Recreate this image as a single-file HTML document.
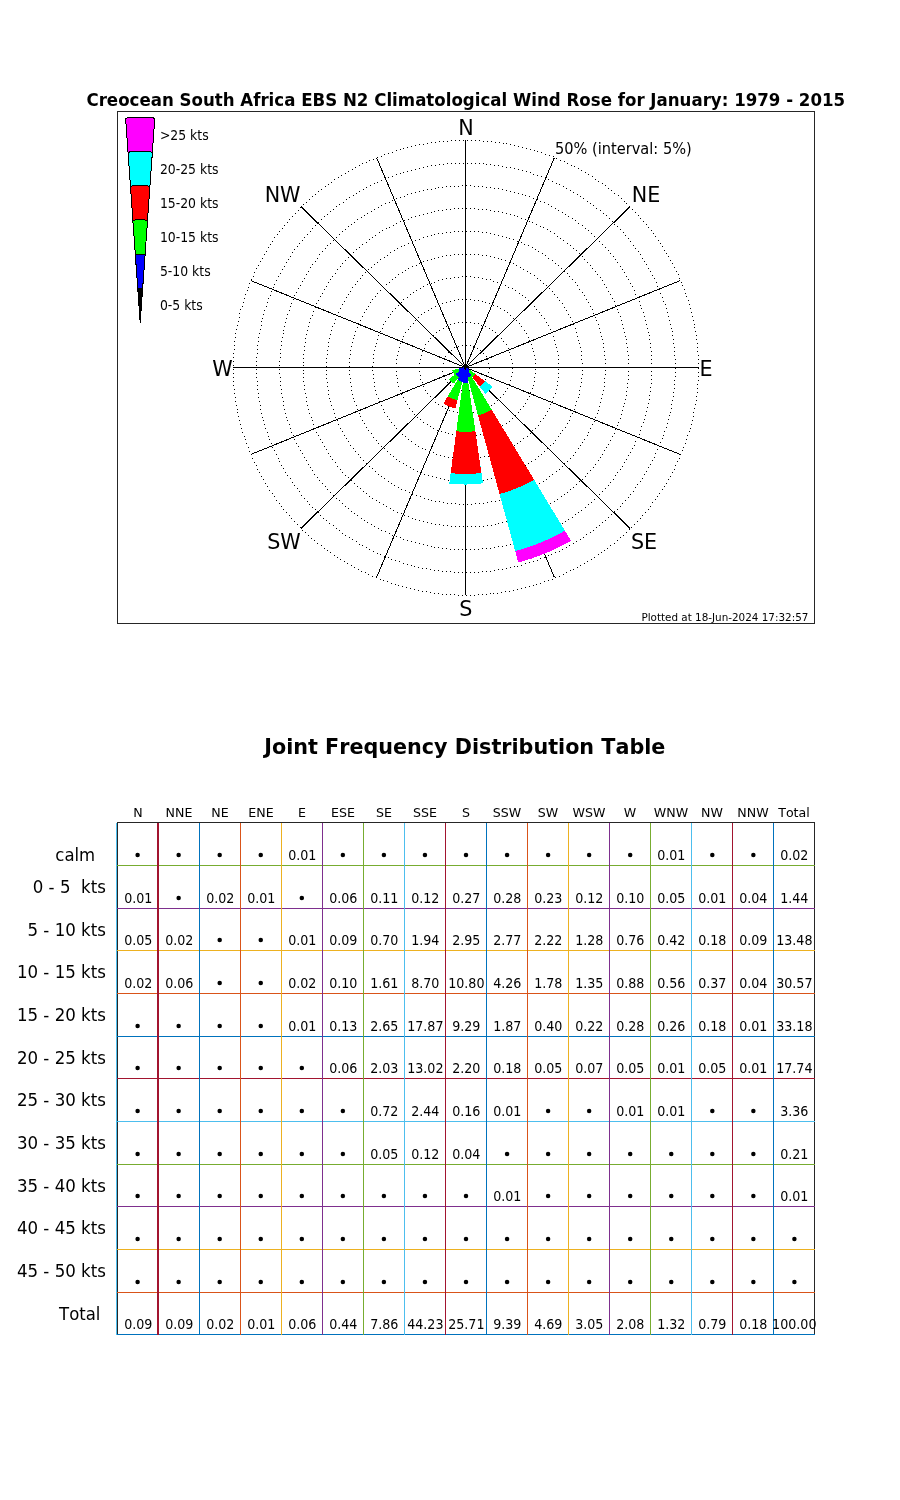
<!DOCTYPE html>
<html><head><meta charset="utf-8"><title>Wind Rose</title>
<style>html,body{margin:0;padding:0;background:#fff}svg{display:block;will-change:transform}text{font-family:"DejaVu Sans","Liberation Sans",sans-serif;fill:#000;font-kerning:none;font-variant-ligatures:none}.b{font-weight:bold}.c{text-anchor:middle}.e{text-anchor:end}</style></head><body>
<svg width="900" height="1500" viewBox="0 0 900 1500">
<rect width="900" height="1500" fill="#fff"/>
<g shape-rendering="crispEdges" fill="none">
<rect x="117.5" y="111.5" width="697" height="512" stroke="#262626" stroke-width="1"/>
<path fill="#000" stroke="none" d="m489 367h1v1h-1zm-1-4h1v1h-1zm-1-4h1v1h-1zm-1-3h1v1h-1zm-3-3h1v1h-1zm-3-3h1v1h-1zm-3-2h1v1h-1zm-4-2h1v1h-1zm-3-1h1v1h-1zm-4 0h1v1h-1zm-4 0h1v1h-1zm-4 1h1v1h-1zm-4 1h1v1h-1zm-3 3h1v1h-1zm-3 2h1v1h-1zm-3 4h1v1h-1zm-1 3h1v1h-1zm-1 4h1v1h-1zm-1 4h1v1h-1zm0 4h1v1h-1zm1 4h1v1h-1zm2 4h1v1h-1zm2 3h1v1h-1zm3 3h1v1h-1zm4 2h1v1h-1zm3 2h1v1h-1zm4 1h1v1h-1zm4 0h1v1h-1zm4 0h1v1h-1zm4-1h1v1h-1zm4-2h1v1h-1zm3-2h1v1h-1zm3-3h1v1h-1zm2-3h1v1h-1zm2-3h1v1h-1zm1-4h1v1h-1zm1-4h1v1h-1z"/>
<path fill="#000" stroke="none" d="m512 367h1v1h-1zm0-4h1v1h-1zm-1-4h1v1h-1zm-1-4h1v1h-1zm-1-3h1v1h-1zm-1-4h1v1h-1zm-2-4h1v1h-1zm-3-3h1v1h-1zm-2-3h1v1h-1zm-3-3h1v1h-1zm-3-3h1v1h-1zm-3-2h1v1h-1zm-3-2h1v1h-1zm-4-2h1v1h-1zm-4-1h1v1h-1zm-3-2h1v1h-1zm-4 0h1v1h-1zm-4-1h1v1h-1zm-4 0h1v1h-1zm-4 0h1v1h-1zm-4 0h1v1h-1zm-4 1h1v1h-1zm-4 1h1v1h-1zm-4 2h1v1h-1zm-3 2h1v1h-1zm-4 2h1v1h-1zm-3 2h1v1h-1zm-3 3h1v1h-1zm-3 3h1v1h-1zm-2 3h1v1h-1zm-3 3h1v1h-1zm-1 4h1v1h-1zm-2 3h1v1h-1zm-1 4h1v1h-1zm-1 4h1v1h-1zm-1 4h1v1h-1zm0 4h1v1h-1zm0 4h1v1h-1zm1 4h1v1h-1zm0 4h1v1h-1zm2 3h1v1h-1zm1 4h1v1h-1zm2 4h1v1h-1zm2 3h1v1h-1zm3 3h1v1h-1zm2 3h1v1h-1zm3 3h1v1h-1zm3 2h1v1h-1zm4 2h1v1h-1zm3 2h1v1h-1zm4 2h1v1h-1zm4 1h1v1h-1zm4 1h1v1h-1zm4 1h1v1h-1zm4 0h1v1h-1zm4 0h1v1h-1zm4-1h1v1h-1zm4-1h1v1h-1zm3-1h1v1h-1zm4-1h1v1h-1zm4-2h1v1h-1zm3-2h1v1h-1zm3-2h1v1h-1zm3-3h1v1h-1zm3-3h1v1h-1zm3-3h1v1h-1zm2-3h1v1h-1zm2-3h1v1h-1zm2-4h1v1h-1zm1-4h1v1h-1zm1-4h1v1h-1zm1-4h1v1h-1zm0-4h1v1h-1z"/>
<path fill="#000" stroke="none" d="m535 367h1v1h-1zm0-4h1v1h-1zm0-4h1v1h-1zm-1-4h1v1h-1zm-1-4h1v1h-1zm-1-3h1v1h-1zm-1-4h1v1h-1zm-2-4h1v1h-1zm-1-3h1v1h-1zm-2-4h1v1h-1zm-2-3h1v1h-1zm-3-4h1v1h-1zm-2-3h1v1h-1zm-3-3h1v1h-1zm-3-2h1v1h-1zm-3-3h1v1h-1zm-3-3h1v1h-1zm-3-2h1v1h-1zm-4-2h1v1h-1zm-3-2h1v1h-1zm-4-1h1v1h-1zm-4-2h1v1h-1zm-4-1h1v1h-1zm-3-1h1v1h-1zm-4-1h1v1h-1zm-4 0h1v1h-1zm-4-1h1v1h-1zm-4 0h1v1h-1zm-4 0h1v1h-1zm-4 0h1v1h-1zm-4 1h1v1h-1zm-4 1h1v1h-1zm-4 1h1v1h-1zm-4 1h1v1h-1zm-4 1h1v1h-1zm-3 2h1v1h-1zm-4 2h1v1h-1zm-3 2h1v1h-1zm-4 2h1v1h-1zm-3 2h1v1h-1zm-3 3h1v1h-1zm-3 3h1v1h-1zm-2 3h1v1h-1zm-3 3h1v1h-1zm-2 3h1v1h-1zm-3 3h1v1h-1zm-2 4h1v1h-1zm-1 3h1v1h-1zm-2 4h1v1h-1zm-1 4h1v1h-1zm-1 4h1v1h-1zm-1 4h1v1h-1zm-1 4h1v1h-1zm0 4h1v1h-1zm0 4h1v1h-1zm0 4h1v1h-1zm0 4h1v1h-1zm1 3h1v1h-1zm0 4h1v1h-1zm1 4h1v1h-1zm2 4h1v1h-1zm1 4h1v1h-1zm2 3h1v1h-1zm2 4h1v1h-1zm2 3h1v1h-1zm2 4h1v1h-1zm3 3h1v1h-1zm2 3h1v1h-1zm3 3h1v1h-1zm3 2h1v1h-1zm3 3h1v1h-1zm4 2h1v1h-1zm3 2h1v1h-1zm3 2h1v1h-1zm4 2h1v1h-1zm4 1h1v1h-1zm4 1h1v1h-1zm3 1h1v1h-1zm4 1h1v1h-1zm4 1h1v1h-1zm4 0h1v1h-1zm4 1h1v1h-1zm4-1h1v1h-1zm4 0h1v1h-1zm4 0h1v1h-1zm4-1h1v1h-1zm4-1h1v1h-1zm4-1h1v1h-1zm4-1h1v1h-1zm3-2h1v1h-1zm4-2h1v1h-1zm3-2h1v1h-1zm4-2h1v1h-1zm3-2h1v1h-1zm3-3h1v1h-1zm3-3h1v1h-1zm3-3h1v1h-1zm2-3h1v1h-1zm3-3h1v1h-1zm2-3h1v1h-1zm2-4h1v1h-1zm2-3h1v1h-1zm1-4h1v1h-1zm2-4h1v1h-1zm1-3h1v1h-1zm1-4h1v1h-1zm0-4h1v1h-1zm1-4h1v1h-1zm0-4h1v1h-1z"/>
<path fill="#000" stroke="none" d="m558 367h1v1h-1zm0-4h1v1h-1zm0-4h1v1h-1zm0-4h1v1h-1zm-1-4h1v1h-1zm-1-4h1v1h-1zm-1-3h1v1h-1zm-1-4h1v1h-1zm-1-4h1v1h-1zm-2-4h1v1h-1zm-1-3h1v1h-1zm-2-4h1v1h-1zm-2-3h1v1h-1zm-2-4h1v1h-1zm-3-3h1v1h-1zm-2-3h1v1h-1zm-3-3h1v1h-1zm-2-3h1v1h-1zm-3-3h1v1h-1zm-3-3h1v1h-1zm-3-3h1v1h-1zm-3-2h1v1h-1zm-3-2h1v1h-1zm-4-3h1v1h-1zm-3-2h1v1h-1zm-4-1h1v1h-1zm-3-2h1v1h-1zm-4-2h1v1h-1zm-4-1h1v1h-1zm-4-1h1v1h-1zm-3-2h1v1h-1zm-4 0h1v1h-1zm-4-1h1v1h-1zm-4-1h1v1h-1zm-4 0h1v1h-1zm-4-1h1v1h-1zm-4 0h1v1h-1zm-4 0h1v1h-1zm-4 1h1v1h-1zm-4 0h1v1h-1zm-4 1h1v1h-1zm-4 0h1v1h-1zm-4 1h1v1h-1zm-4 1h1v1h-1zm-4 2h1v1h-1zm-3 1h1v1h-1zm-4 1h1v1h-1zm-4 2h1v1h-1zm-3 2h1v1h-1zm-4 2h1v1h-1zm-3 2h1v1h-1zm-3 2h1v1h-1zm-3 3h1v1h-1zm-4 2h1v1h-1zm-2 3h1v1h-1zm-3 3h1v1h-1zm-3 3h1v1h-1zm-3 3h1v1h-1zm-2 3h1v1h-1zm-2 3h1v1h-1zm-3 4h1v1h-1zm-2 3h1v1h-1zm-1 4h1v1h-1zm-2 3h1v1h-1zm-2 4h1v1h-1zm-1 4h1v1h-1zm-1 4h1v1h-1zm-1 3h1v1h-1zm-1 4h1v1h-1zm-1 4h1v1h-1zm0 4h1v1h-1zm0 4h1v1h-1zm-1 4h1v1h-1zm0 4h1v1h-1zm1 4h1v1h-1zm0 4h1v1h-1zm1 4h1v1h-1zm0 4h1v1h-1zm1 4h1v1h-1zm1 4h1v1h-1zm2 4h1v1h-1zm1 3h1v1h-1zm2 4h1v1h-1zm2 4h1v1h-1zm1 3h1v1h-1zm3 4h1v1h-1zm2 3h1v1h-1zm2 3h1v1h-1zm3 3h1v1h-1zm2 3h1v1h-1zm3 3h1v1h-1zm3 3h1v1h-1zm3 2h1v1h-1zm3 3h1v1h-1zm3 2h1v1h-1zm4 3h1v1h-1zm3 2h1v1h-1zm4 2h1v1h-1zm3 1h1v1h-1zm4 2h1v1h-1zm4 1h1v1h-1zm3 2h1v1h-1zm4 1h1v1h-1zm4 1h1v1h-1zm4 1h1v1h-1zm4 0h1v1h-1zm4 1h1v1h-1zm4 0h1v1h-1zm4 0h1v1h-1zm4 0h1v1h-1zm4 0h1v1h-1zm4 0h1v1h-1zm4-1h1v1h-1zm4-1h1v1h-1zm4 0h1v1h-1zm4-1h1v1h-1zm3-2h1v1h-1zm4-1h1v1h-1zm4-1h1v1h-1zm3-2h1v1h-1zm4-2h1v1h-1zm4-2h1v1h-1zm3-2h1v1h-1zm3-2h1v1h-1zm3-3h1v1h-1zm4-2h1v1h-1zm3-3h1v1h-1zm2-3h1v1h-1zm3-2h1v1h-1zm3-3h1v1h-1zm2-4h1v1h-1zm3-3h1v1h-1zm2-3h1v1h-1zm2-4h1v1h-1zm2-3h1v1h-1zm1-4h1v1h-1zm2-3h1v1h-1zm1-4h1v1h-1zm2-4h1v1h-1zm1-4h1v1h-1zm1-4h1v1h-1zm0-4h1v1h-1zm1-4h1v1h-1zm0-4h1v1h-1zm0-4h1v1h-1z"/>
<path fill="#000" stroke="none" d="m582 367h1v1h-1zm0-4h1v1h-1zm-1-4h1v1h-1zm0-4h1v1h-1zm0-4h1v1h-1zm-1-4h1v1h-1zm-1-4h1v1h-1zm-1-3h1v1h-1zm-1-4h1v1h-1zm-1-4h1v1h-1zm-1-4h1v1h-1zm-2-4h1v1h-1zm-1-3h1v1h-1zm-2-4h1v1h-1zm-2-3h1v1h-1zm-2-4h1v1h-1zm-2-3h1v1h-1zm-2-4h1v1h-1zm-3-3h1v1h-1zm-2-3h1v1h-1zm-3-3h1v1h-1zm-2-3h1v1h-1zm-3-3h1v1h-1zm-3-3h1v1h-1zm-3-2h1v1h-1zm-3-3h1v1h-1zm-3-2h1v1h-1zm-3-3h1v1h-1zm-4-2h1v1h-1zm-3-2h1v1h-1zm-4-2h1v1h-1zm-3-2h1v1h-1zm-4-2h1v1h-1zm-3-2h1v1h-1zm-4-1h1v1h-1zm-4-2h1v1h-1zm-4-1h1v1h-1zm-3-1h1v1h-1zm-4-1h1v1h-1zm-4-1h1v1h-1zm-4-1h1v1h-1zm-4 0h1v1h-1zm-4-1h1v1h-1zm-4 0h1v1h-1zm-4 0h1v1h-1zm-4 0h1v1h-1zm-4 0h1v1h-1zm-4 0h1v1h-1zm-4 0h1v1h-1zm-4 1h1v1h-1zm-4 0h1v1h-1zm-4 1h1v1h-1zm-4 1h1v1h-1zm-4 1h1v1h-1zm-3 1h1v1h-1zm-4 1h1v1h-1zm-4 1h1v1h-1zm-4 2h1v1h-1zm-3 2h1v1h-1zm-4 1h1v1h-1zm-4 2h1v1h-1zm-3 2h1v1h-1zm-3 2h1v1h-1zm-4 2h1v1h-1zm-3 3h1v1h-1zm-3 2h1v1h-1zm-3 3h1v1h-1zm-3 2h1v1h-1zm-3 3h1v1h-1zm-3 3h1v1h-1zm-3 3h1v1h-1zm-2 3h1v1h-1zm-3 3h1v1h-1zm-2 3h1v1h-1zm-2 4h1v1h-1zm-2 3h1v1h-1zm-2 3h1v1h-1zm-2 4h1v1h-1zm-2 4h1v1h-1zm-2 3h1v1h-1zm-1 4h1v1h-1zm-2 4h1v1h-1zm-1 4h1v1h-1zm-1 3h1v1h-1zm-1 4h1v1h-1zm-1 4h1v1h-1zm-1 4h1v1h-1zm0 4h1v1h-1zm-1 4h1v1h-1zm0 4h1v1h-1zm0 4h1v1h-1zm0 4h1v1h-1zm0 4h1v1h-1zm1 4h1v1h-1zm0 4h1v1h-1zm1 4h1v1h-1zm0 4h1v1h-1zm1 4h1v1h-1zm1 4h1v1h-1zm1 3h1v1h-1zm2 4h1v1h-1zm1 4h1v1h-1zm2 4h1v1h-1zm1 3h1v1h-1zm2 4h1v1h-1zm2 3h1v1h-1zm2 4h1v1h-1zm2 3h1v1h-1zm3 3h1v1h-1zm2 4h1v1h-1zm3 3h1v1h-1zm2 3h1v1h-1zm3 3h1v1h-1zm3 2h1v1h-1zm3 3h1v1h-1zm3 3h1v1h-1zm3 2h1v1h-1zm3 3h1v1h-1zm3 2h1v1h-1zm4 2h1v1h-1zm3 2h1v1h-1zm4 2h1v1h-1zm3 2h1v1h-1zm4 2h1v1h-1zm4 1h1v1h-1zm3 2h1v1h-1zm4 1h1v1h-1zm4 1h1v1h-1zm4 1h1v1h-1zm4 1h1v1h-1zm4 1h1v1h-1zm4 1h1v1h-1zm4 0h1v1h-1zm3 1h1v1h-1zm4 0h1v1h-1zm4 0h1v1h-1zm4 0h1v1h-1zm4 0h1v1h-1zm4 0h1v1h-1zm4-1h1v1h-1zm4 0h1v1h-1zm4-1h1v1h-1zm4-1h1v1h-1zm4-1h1v1h-1zm4-1h1v1h-1zm4-1h1v1h-1zm4-1h1v1h-1zm3-2h1v1h-1zm4-1h1v1h-1zm4-2h1v1h-1zm3-2h1v1h-1zm4-2h1v1h-1zm3-2h1v1h-1zm3-2h1v1h-1zm4-2h1v1h-1zm3-3h1v1h-1zm3-2h1v1h-1zm3-3h1v1h-1zm3-3h1v1h-1zm3-3h1v1h-1zm3-2h1v1h-1zm2-3h1v1h-1zm3-4h1v1h-1zm2-3h1v1h-1zm2-3h1v1h-1zm3-3h1v1h-1zm2-4h1v1h-1zm2-3h1v1h-1zm1-4h1v1h-1zm2-3h1v1h-1zm2-4h1v1h-1zm1-4h1v1h-1zm1-4h1v1h-1zm2-4h1v1h-1zm1-3h1v1h-1zm0-4h1v1h-1zm1-4h1v1h-1zm1-4h1v1h-1zm0-4h1v1h-1zm1-4h1v1h-1zm0-4h1v1h-1z"/>
<path fill="#000" stroke="none" d="m605 367h1v1h-1zm0-4h1v1h-1zm0-4h1v1h-1zm-1-4h1v1h-1zm0-4h1v1h-1zm-1-4h1v1h-1zm0-4h1v1h-1zm-1-4h1v1h-1zm-1-3h1v1h-1zm-1-4h1v1h-1zm-1-4h1v1h-1zm-1-4h1v1h-1zm-2-4h1v1h-1zm-1-3h1v1h-1zm-2-4h1v1h-1zm-1-4h1v1h-1zm-2-3h1v1h-1zm-2-4h1v1h-1zm-2-3h1v1h-1zm-2-4h1v1h-1zm-2-3h1v1h-1zm-3-3h1v1h-1zm-2-4h1v1h-1zm-2-3h1v1h-1zm-3-3h1v1h-1zm-3-3h1v1h-1zm-2-3h1v1h-1zm-3-2h1v1h-1zm-3-3h1v1h-1zm-3-3h1v1h-1zm-3-2h1v1h-1zm-3-3h1v1h-1zm-4-2h1v1h-1zm-3-3h1v1h-1zm-3-2h1v1h-1zm-4-2h1v1h-1zm-3-2h1v1h-1zm-3-2h1v1h-1zm-4-2h1v1h-1zm-4-1h1v1h-1zm-3-2h1v1h-1zm-4-1h1v1h-1zm-4-2h1v1h-1zm-4-1h1v1h-1zm-3-1h1v1h-1zm-4-1h1v1h-1zm-4-1h1v1h-1zm-4-1h1v1h-1zm-4-1h1v1h-1zm-4-1h1v1h-1zm-4 0h1v1h-1zm-4-1h1v1h-1zm-4 0h1v1h-1zm-4 0h1v1h-1zm-4 0h1v1h-1zm-4 0h1v1h-1zm-4 0h1v1h-1zm-4 0h1v1h-1zm-4 1h1v1h-1zm-4 0h1v1h-1zm-4 1h1v1h-1zm-4 0h1v1h-1zm-4 1h1v1h-1zm-3 1h1v1h-1zm-4 1h1v1h-1zm-4 1h1v1h-1zm-4 2h1v1h-1zm-4 1h1v1h-1zm-3 1h1v1h-1zm-4 2h1v1h-1zm-4 2h1v1h-1zm-3 1h1v1h-1zm-4 2h1v1h-1zm-3 2h1v1h-1zm-4 2h1v1h-1zm-3 3h1v1h-1zm-3 2h1v1h-1zm-4 2h1v1h-1zm-3 3h1v1h-1zm-3 2h1v1h-1zm-3 3h1v1h-1zm-3 2h1v1h-1zm-3 3h1v1h-1zm-3 3h1v1h-1zm-2 3h1v1h-1zm-3 3h1v1h-1zm-2 3h1v1h-1zm-3 3h1v1h-1zm-2 4h1v1h-1zm-2 3h1v1h-1zm-2 3h1v1h-1zm-2 4h1v1h-1zm-2 3h1v1h-1zm-2 4h1v1h-1zm-2 4h1v1h-1zm-2 3h1v1h-1zm-1 4h1v1h-1zm-1 4h1v1h-1zm-2 3h1v1h-1zm-1 4h1v1h-1zm-1 4h1v1h-1zm-1 4h1v1h-1zm-1 4h1v1h-1zm0 4h1v1h-1zm-1 4h1v1h-1zm0 4h1v1h-1zm-1 4h1v1h-1zm0 4h1v1h-1zm0 4h1v1h-1zm0 4h1v1h-1zm0 4h1v1h-1zm0 4h1v1h-1zm1 4h1v1h-1zm0 4h1v1h-1zm1 4h1v1h-1zm0 4h1v1h-1zm1 4h1v1h-1zm1 3h1v1h-1zm1 4h1v1h-1zm2 4h1v1h-1zm1 4h1v1h-1zm1 4h1v1h-1zm2 3h1v1h-1zm1 4h1v1h-1zm2 4h1v1h-1zm2 3h1v1h-1zm2 4h1v1h-1zm2 3h1v1h-1zm2 3h1v1h-1zm2 4h1v1h-1zm3 3h1v1h-1zm2 3h1v1h-1zm3 3h1v1h-1zm2 3h1v1h-1zm3 3h1v1h-1zm3 3h1v1h-1zm3 3h1v1h-1zm3 2h1v1h-1zm3 3h1v1h-1zm3 3h1v1h-1zm3 2h1v1h-1zm3 2h1v1h-1zm4 3h1v1h-1zm3 2h1v1h-1zm3 2h1v1h-1zm4 2h1v1h-1zm3 2h1v1h-1zm4 1h1v1h-1zm4 2h1v1h-1zm3 2h1v1h-1zm4 1h1v1h-1zm4 1h1v1h-1zm4 2h1v1h-1zm4 1h1v1h-1zm3 1h1v1h-1zm4 1h1v1h-1zm4 0h1v1h-1zm4 1h1v1h-1zm4 1h1v1h-1zm4 0h1v1h-1zm4 0h1v1h-1zm4 1h1v1h-1zm4 0h1v1h-1zm4 0h1v1h-1zm4 0h1v1h-1zm4-1h1v1h-1zm4 0h1v1h-1zm4 0h1v1h-1zm4-1h1v1h-1zm4-1h1v1h-1zm4 0h1v1h-1zm4-1h1v1h-1zm4-1h1v1h-1zm4-1h1v1h-1zm3-2h1v1h-1zm4-1h1v1h-1zm4-1h1v1h-1zm4-2h1v1h-1zm3-1h1v1h-1zm4-2h1v1h-1zm3-2h1v1h-1zm4-2h1v1h-1zm3-2h1v1h-1zm4-2h1v1h-1zm3-2h1v1h-1zm3-3h1v1h-1zm3-2h1v1h-1zm4-3h1v1h-1zm3-2h1v1h-1zm3-3h1v1h-1zm2-3h1v1h-1zm3-2h1v1h-1zm3-3h1v1h-1zm3-3h1v1h-1zm2-3h1v1h-1zm3-4h1v1h-1zm2-3h1v1h-1zm2-3h1v1h-1zm2-3h1v1h-1zm3-4h1v1h-1zm1-3h1v1h-1zm2-4h1v1h-1zm2-4h1v1h-1zm2-3h1v1h-1zm1-4h1v1h-1zm2-4h1v1h-1zm1-3h1v1h-1zm1-4h1v1h-1zm1-4h1v1h-1zm1-4h1v1h-1zm1-4h1v1h-1zm1-4h1v1h-1zm1-4h1v1h-1zm0-4h1v1h-1zm0-4h1v1h-1zm1-4h1v1h-1zm0-4h1v1h-1z"/>
<path fill="#000" stroke="none" d="m628 367h1v1h-1zm0-4h1v1h-1zm0-4h1v1h-1zm0-4h1v1h-1zm-1-4h1v1h-1zm0-4h1v1h-1zm-1-4h1v1h-1zm0-4h1v1h-1zm-1-3h1v1h-1zm-1-4h1v1h-1zm-1-4h1v1h-1zm-1-4h1v1h-1zm-1-4h1v1h-1zm-1-4h1v1h-1zm-2-4h1v1h-1zm-1-3h1v1h-1zm-2-4h1v1h-1zm-1-4h1v1h-1zm-2-3h1v1h-1zm-2-4h1v1h-1zm-2-3h1v1h-1zm-2-4h1v1h-1zm-2-3h1v1h-1zm-2-4h1v1h-1zm-2-3h1v1h-1zm-3-3h1v1h-1zm-2-3h1v1h-1zm-3-3h1v1h-1zm-2-3h1v1h-1zm-3-3h1v1h-1zm-3-3h1v1h-1zm-2-3h1v1h-1zm-3-3h1v1h-1zm-3-3h1v1h-1zm-3-2h1v1h-1zm-3-3h1v1h-1zm-3-2h1v1h-1zm-4-3h1v1h-1zm-3-2h1v1h-1zm-3-2h1v1h-1zm-3-3h1v1h-1zm-4-2h1v1h-1zm-3-2h1v1h-1zm-4-2h1v1h-1zm-3-1h1v1h-1zm-4-2h1v1h-1zm-4-2h1v1h-1zm-3-1h1v1h-1zm-4-2h1v1h-1zm-4-1h1v1h-1zm-4-2h1v1h-1zm-3-1h1v1h-1zm-4-1h1v1h-1zm-4-1h1v1h-1zm-4-1h1v1h-1zm-4-1h1v1h-1zm-4 0h1v1h-1zm-4-1h1v1h-1zm-4-1h1v1h-1zm-4 0h1v1h-1zm-4 0h1v1h-1zm-4-1h1v1h-1zm-4 0h1v1h-1zm-4 0h1v1h-1zm-4 0h1v1h-1zm-4 0h1v1h-1zm-4 0h1v1h-1zm-4 1h1v1h-1zm-4 0h1v1h-1zm-4 1h1v1h-1zm-4 0h1v1h-1zm-4 1h1v1h-1zm-3 1h1v1h-1zm-4 1h1v1h-1zm-4 1h1v1h-1zm-4 1h1v1h-1zm-4 1h1v1h-1zm-4 1h1v1h-1zm-3 2h1v1h-1zm-4 1h1v1h-1zm-4 1h1v1h-1zm-4 2h1v1h-1zm-3 2h1v1h-1zm-4 2h1v1h-1zm-3 1h1v1h-1zm-4 2h1v1h-1zm-3 2h1v1h-1zm-4 3h1v1h-1zm-3 2h1v1h-1zm-3 2h1v1h-1zm-3 3h1v1h-1zm-4 2h1v1h-1zm-3 3h1v1h-1zm-3 2h1v1h-1zm-3 3h1v1h-1zm-3 3h1v1h-1zm-2 2h1v1h-1zm-3 3h1v1h-1zm-3 3h1v1h-1zm-2 3h1v1h-1zm-3 3h1v1h-1zm-2 4h1v1h-1zm-3 3h1v1h-1zm-2 3h1v1h-1zm-2 3h1v1h-1zm-2 4h1v1h-1zm-2 3h1v1h-1zm-2 4h1v1h-1zm-2 3h1v1h-1zm-2 4h1v1h-1zm-2 3h1v1h-1zm-1 4h1v1h-1zm-2 4h1v1h-1zm-1 4h1v1h-1zm-2 3h1v1h-1zm-1 4h1v1h-1zm-1 4h1v1h-1zm-1 4h1v1h-1zm-1 4h1v1h-1zm-1 4h1v1h-1zm0 4h1v1h-1zm-1 4h1v1h-1zm0 4h1v1h-1zm-1 4h1v1h-1zm0 4h1v1h-1zm0 4h1v1h-1zm0 3h1v1h-1zm0 5h1v1h-1zm0 3h1v1h-1zm0 4h1v1h-1zm0 4h1v1h-1zm1 4h1v1h-1zm0 4h1v1h-1zm1 4h1v1h-1zm1 4h1v1h-1zm0 4h1v1h-1zm1 4h1v1h-1zm1 4h1v1h-1zm1 4h1v1h-1zm2 4h1v1h-1zm1 3h1v1h-1zm1 4h1v1h-1zm2 4h1v1h-1zm1 4h1v1h-1zm2 3h1v1h-1zm2 4h1v1h-1zm2 3h1v1h-1zm2 4h1v1h-1zm2 3h1v1h-1zm2 4h1v1h-1zm2 3h1v1h-1zm2 3h1v1h-1zm3 3h1v1h-1zm2 4h1v1h-1zm3 3h1v1h-1zm2 3h1v1h-1zm3 3h1v1h-1zm3 2h1v1h-1zm3 3h1v1h-1zm3 3h1v1h-1zm3 3h1v1h-1zm3 2h1v1h-1zm3 3h1v1h-1zm3 2h1v1h-1zm3 3h1v1h-1zm3 2h1v1h-1zm4 2h1v1h-1zm3 2h1v1h-1zm4 2h1v1h-1zm3 2h1v1h-1zm4 2h1v1h-1zm3 2h1v1h-1zm4 2h1v1h-1zm4 1h1v1h-1zm3 2h1v1h-1zm4 1h1v1h-1zm4 2h1v1h-1zm3 1h1v1h-1zm4 1h1v1h-1zm4 1h1v1h-1zm4 1h1v1h-1zm4 1h1v1h-1zm4 1h1v1h-1zm4 0h1v1h-1zm4 1h1v1h-1zm4 0h1v1h-1zm4 1h1v1h-1zm4 0h1v1h-1zm4 0h1v1h-1zm4 0h1v1h-1zm4 0h1v1h-1zm4 0h1v1h-1zm4 0h1v1h-1zm4 0h1v1h-1zm4 0h1v1h-1zm4-1h1v1h-1zm4 0h1v1h-1zm4-1h1v1h-1zm3-1h1v1h-1zm4-1h1v1h-1zm4-1h1v1h-1zm4-1h1v1h-1zm4-1h1v1h-1zm4-1h1v1h-1zm4-1h1v1h-1zm3-2h1v1h-1zm4-1h1v1h-1zm4-2h1v1h-1zm3-1h1v1h-1zm4-2h1v1h-1zm3-2h1v1h-1zm4-2h1v1h-1zm3-2h1v1h-1zm4-2h1v1h-1zm3-2h1v1h-1zm4-3h1v1h-1zm3-2h1v1h-1zm3-2h1v1h-1zm3-3h1v1h-1zm3-2h1v1h-1zm3-3h1v1h-1zm3-3h1v1h-1zm3-2h1v1h-1zm3-3h1v1h-1zm2-3h1v1h-1zm3-3h1v1h-1zm3-3h1v1h-1zm2-3h1v1h-1zm3-4h1v1h-1zm2-3h1v1h-1zm2-3h1v1h-1zm2-4h1v1h-1zm2-3h1v1h-1zm2-3h1v1h-1zm2-4h1v1h-1zm2-4h1v1h-1zm2-3h1v1h-1zm1-4h1v1h-1zm2-4h1v1h-1zm1-3h1v1h-1zm2-4h1v1h-1zm1-4h1v1h-1zm1-4h1v1h-1zm1-4h1v1h-1zm1-3h1v1h-1zm1-4h1v1h-1zm1-4h1v1h-1zm0-4h1v1h-1zm1-4h1v1h-1zm0-4h1v1h-1zm1-4h1v1h-1zm0-4h1v1h-1zm0-4h1v1h-1z"/>
<path fill="#000" stroke="none" d="m651 367h1v1h-1zm0-4h1v1h-1zm0-4h1v1h-1zm0-4h1v1h-1zm0-4h1v1h-1zm-1-4h1v1h-1zm0-4h1v1h-1zm-1-4h1v1h-1zm0-4h1v1h-1zm-1-3h1v1h-1zm-1-4h1v1h-1zm-1-4h1v1h-1zm-1-4h1v1h-1zm-1-4h1v1h-1zm-1-4h1v1h-1zm-2-4h1v1h-1zm-1-3h1v1h-1zm-1-4h1v1h-1zm-2-4h1v1h-1zm-2-3h1v1h-1zm-1-4h1v1h-1zm-2-4h1v1h-1zm-2-3h1v1h-1zm-2-4h1v1h-1zm-2-3h1v1h-1zm-2-4h1v1h-1zm-2-3h1v1h-1zm-2-3h1v1h-1zm-3-4h1v1h-1zm-2-3h1v1h-1zm-2-3h1v1h-1zm-3-3h1v1h-1zm-2-3h1v1h-1zm-3-3h1v1h-1zm-3-3h1v1h-1zm-3-3h1v1h-1zm-2-3h1v1h-1zm-3-2h1v1h-1zm-3-3h1v1h-1zm-3-3h1v1h-1zm-3-2h1v1h-1zm-3-3h1v1h-1zm-4-2h1v1h-1zm-3-3h1v1h-1zm-3-2h1v1h-1zm-4-2h1v1h-1zm-3-2h1v1h-1zm-3-2h1v1h-1zm-4-2h1v1h-1zm-3-2h1v1h-1zm-4-2h1v1h-1zm-3-2h1v1h-1zm-4-2h1v1h-1zm-4-1h1v1h-1zm-3-2h1v1h-1zm-4-1h1v1h-1zm-4-2h1v1h-1zm-4-1h1v1h-1zm-3-1h1v1h-1zm-4-1h1v1h-1zm-4-1h1v1h-1zm-4-1h1v1h-1zm-4-1h1v1h-1zm-4-1h1v1h-1zm-4-1h1v1h-1zm-4 0h1v1h-1zm-4-1h1v1h-1zm-4 0h1v1h-1zm-4-1h1v1h-1zm-4 0h1v1h-1zm-4 0h1v1h-1zm-4-1h1v1h-1zm-4 0h1v1h-1zm-4 0h1v1h-1zm-4 1h1v1h-1zm-4 0h1v1h-1zm-4 0h1v1h-1zm-4 0h1v1h-1zm-4 1h1v1h-1zm-4 0h1v1h-1zm-3 1h1v1h-1zm-4 1h1v1h-1zm-4 0h1v1h-1zm-4 1h1v1h-1zm-4 1h1v1h-1zm-4 1h1v1h-1zm-4 1h1v1h-1zm-4 1h1v1h-1zm-3 2h1v1h-1zm-4 1h1v1h-1zm-4 1h1v1h-1zm-4 2h1v1h-1zm-3 2h1v1h-1zm-4 1h1v1h-1zm-4 2h1v1h-1zm-3 2h1v1h-1zm-4 2h1v1h-1zm-3 2h1v1h-1zm-4 2h1v1h-1zm-3 2h1v1h-1zm-3 2h1v1h-1zm-4 2h1v1h-1zm-3 3h1v1h-1zm-3 2h1v1h-1zm-3 2h1v1h-1zm-3 3h1v1h-1zm-3 2h1v1h-1zm-3 3h1v1h-1zm-3 3h1v1h-1zm-3 3h1v1h-1zm-3 3h1v1h-1zm-3 2h1v1h-1zm-2 3h1v1h-1zm-3 3h1v1h-1zm-3 3h1v1h-1zm-2 4h1v1h-1zm-2 3h1v1h-1zm-3 3h1v1h-1zm-2 3h1v1h-1zm-2 4h1v1h-1zm-2 3h1v1h-1zm-2 4h1v1h-1zm-2 3h1v1h-1zm-2 4h1v1h-1zm-2 3h1v1h-1zm-2 4h1v1h-1zm-2 3h1v1h-1zm-1 4h1v1h-1zm-2 4h1v1h-1zm-1 3h1v1h-1zm-1 4h1v1h-1zm-2 4h1v1h-1zm-1 4h1v1h-1zm-1 4h1v1h-1zm-1 4h1v1h-1zm-1 4h1v1h-1zm0 3h1v1h-1zm-1 4h1v1h-1zm-1 4h1v1h-1zm0 4h1v1h-1zm-1 4h1v1h-1zm0 4h1v1h-1zm0 4h1v1h-1zm-1 4h1v1h-1zm0 4h1v1h-1zm0 4h1v1h-1zm0 4h1v1h-1zm1 4h1v1h-1zm0 4h1v1h-1zm0 4h1v1h-1zm1 4h1v1h-1zm0 4h1v1h-1zm1 4h1v1h-1zm1 4h1v1h-1zm0 4h1v1h-1zm1 4h1v1h-1zm1 4h1v1h-1zm1 4h1v1h-1zm1 3h1v1h-1zm2 4h1v1h-1zm1 4h1v1h-1zm1 4h1v1h-1zm2 3h1v1h-1zm1 4h1v1h-1zm2 4h1v1h-1zm2 3h1v1h-1zm2 4h1v1h-1zm2 3h1v1h-1zm2 4h1v1h-1zm2 3h1v1h-1zm2 4h1v1h-1zm2 3h1v1h-1zm2 3h1v1h-1zm2 4h1v1h-1zm3 3h1v1h-1zm2 3h1v1h-1zm3 3h1v1h-1zm3 3h1v1h-1zm2 3h1v1h-1zm3 3h1v1h-1zm3 3h1v1h-1zm3 3h1v1h-1zm3 2h1v1h-1zm3 3h1v1h-1zm3 3h1v1h-1zm3 2h1v1h-1zm3 3h1v1h-1zm3 2h1v1h-1zm3 2h1v1h-1zm4 3h1v1h-1zm3 2h1v1h-1zm3 2h1v1h-1zm4 2h1v1h-1zm3 2h1v1h-1zm4 2h1v1h-1zm3 2h1v1h-1zm4 1h1v1h-1zm4 2h1v1h-1zm3 2h1v1h-1zm4 1h1v1h-1zm4 1h1v1h-1zm3 2h1v1h-1zm4 1h1v1h-1zm4 1h1v1h-1zm4 1h1v1h-1zm4 1h1v1h-1zm4 1h1v1h-1zm4 1h1v1h-1zm4 1h1v1h-1zm3 1h1v1h-1zm4 0h1v1h-1zm4 1h1v1h-1zm4 0h1v1h-1zm4 1h1v1h-1zm4 0h1v1h-1zm4 0h1v1h-1zm4 0h1v1h-1zm4 0h1v1h-1zm4 0h1v1h-1zm4 0h1v1h-1zm4 0h1v1h-1zm4-1h1v1h-1zm4 0h1v1h-1zm4 0h1v1h-1zm4-1h1v1h-1zm4-1h1v1h-1zm4 0h1v1h-1zm4-1h1v1h-1zm4-1h1v1h-1zm4-1h1v1h-1zm4-1h1v1h-1zm3-1h1v1h-1zm4-1h1v1h-1zm4-2h1v1h-1zm4-1h1v1h-1zm4-2h1v1h-1zm3-1h1v1h-1zm4-2h1v1h-1zm4-1h1v1h-1zm3-2h1v1h-1zm4-2h1v1h-1zm3-2h1v1h-1zm4-2h1v1h-1zm3-2h1v1h-1zm3-2h1v1h-1zm4-2h1v1h-1zm3-3h1v1h-1zm3-2h1v1h-1zm3-2h1v1h-1zm4-3h1v1h-1zm3-3h1v1h-1zm3-2h1v1h-1zm3-3h1v1h-1zm3-3h1v1h-1zm2-2h1v1h-1zm3-3h1v1h-1zm3-3h1v1h-1zm3-3h1v1h-1zm2-3h1v1h-1zm3-3h1v1h-1zm2-4h1v1h-1zm2-3h1v1h-1zm3-3h1v1h-1zm2-3h1v1h-1zm2-4h1v1h-1zm2-3h1v1h-1zm2-4h1v1h-1zm2-3h1v1h-1zm2-4h1v1h-1zm2-3h1v1h-1zm1-4h1v1h-1zm2-4h1v1h-1zm2-3h1v1h-1zm1-4h1v1h-1zm1-4h1v1h-1zm2-4h1v1h-1zm1-3h1v1h-1zm1-4h1v1h-1zm1-4h1v1h-1zm1-4h1v1h-1zm1-4h1v1h-1zm1-4h1v1h-1zm0-4h1v1h-1zm1-4h1v1h-1zm0-4h1v1h-1zm1-4h1v1h-1zm0-4h1v1h-1zm0-4h1v1h-1zm0-4h1v1h-1zm0-4h1v1h-1z"/>
<path fill="#000" stroke="none" d="m675 367h1v1h-1zm0-4h1v1h-1zm0-4h1v1h-1zm-1-4h1v1h-1zm0-4h1v1h-1zm0-4h1v1h-1zm-1-4h1v1h-1zm0-4h1v1h-1zm-1-4h1v1h-1zm0-4h1v1h-1zm-1-3h1v1h-1zm-1-4h1v1h-1zm-1-4h1v1h-1zm-1-4h1v1h-1zm-1-4h1v1h-1zm-1-4h1v1h-1zm-1-4h1v1h-1zm-2-3h1v1h-1zm-1-4h1v1h-1zm-2-4h1v1h-1zm-1-4h1v1h-1zm-2-3h1v1h-1zm-1-4h1v1h-1zm-2-4h1v1h-1zm-2-3h1v1h-1zm-2-4h1v1h-1zm-2-3h1v1h-1zm-2-4h1v1h-1zm-2-3h1v1h-1zm-2-3h1v1h-1zm-2-4h1v1h-1zm-2-3h1v1h-1zm-3-3h1v1h-1zm-2-3h1v1h-1zm-3-4h1v1h-1zm-2-3h1v1h-1zm-3-3h1v1h-1zm-2-3h1v1h-1zm-3-3h1v1h-1zm-3-3h1v1h-1zm-3-2h1v1h-1zm-2-3h1v1h-1zm-3-3h1v1h-1zm-3-3h1v1h-1zm-3-2h1v1h-1zm-3-3h1v1h-1zm-4-2h1v1h-1zm-3-3h1v1h-1zm-3-2h1v1h-1zm-3-2h1v1h-1zm-4-3h1v1h-1zm-3-2h1v1h-1zm-3-2h1v1h-1zm-4-2h1v1h-1zm-3-2h1v1h-1zm-4-2h1v1h-1zm-3-2h1v1h-1zm-4-2h1v1h-1zm-3-1h1v1h-1zm-4-2h1v1h-1zm-4-2h1v1h-1zm-3-1h1v1h-1zm-4-2h1v1h-1zm-4-1h1v1h-1zm-4-1h1v1h-1zm-3-2h1v1h-1zm-4-1h1v1h-1zm-4-1h1v1h-1zm-4-1h1v1h-1zm-4-1h1v1h-1zm-4-1h1v1h-1zm-4 0h1v1h-1zm-4-1h1v1h-1zm-4-1h1v1h-1zm-4 0h1v1h-1zm-4-1h1v1h-1zm-4 0h1v1h-1zm-3-1h1v1h-1zm-4 0h1v1h-1zm-4 0h1v1h-1zm-4 0h1v1h-1zm-4 0h1v1h-1zm-4 0h1v1h-1zm-4 0h1v1h-1zm-4 0h1v1h-1zm-4 0h1v1h-1zm-4 0h1v1h-1zm-4 1h1v1h-1zm-4 0h1v1h-1zm-4 1h1v1h-1zm-4 0h1v1h-1zm-4 1h1v1h-1zm-4 1h1v1h-1zm-4 1h1v1h-1zm-4 1h1v1h-1zm-4 1h1v1h-1zm-4 1h1v1h-1zm-4 1h1v1h-1zm-3 1h1v1h-1zm-4 1h1v1h-1zm-4 2h1v1h-1zm-4 1h1v1h-1zm-3 1h1v1h-1zm-4 2h1v1h-1zm-4 2h1v1h-1zm-3 1h1v1h-1zm-4 2h1v1h-1zm-4 2h1v1h-1zm-3 2h1v1h-1zm-4 2h1v1h-1zm-3 2h1v1h-1zm-3 2h1v1h-1zm-4 2h1v1h-1zm-3 2h1v1h-1zm-3 3h1v1h-1zm-4 2h1v1h-1zm-3 2h1v1h-1zm-3 3h1v1h-1zm-3 2h1v1h-1zm-3 3h1v1h-1zm-3 2h1v1h-1zm-3 3h1v1h-1zm-3 3h1v1h-1zm-3 3h1v1h-1zm-3 3h1v1h-1zm-2 3h1v1h-1zm-3 3h1v1h-1zm-3 3h1v1h-1zm-2 3h1v1h-1zm-3 3h1v1h-1zm-2 3h1v1h-1zm-3 3h1v1h-1zm-2 3h1v1h-1zm-2 4h1v1h-1zm-2 3h1v1h-1zm-2 3h1v1h-1zm-2 4h1v1h-1zm-2 3h1v1h-1zm-2 4h1v1h-1zm-2 3h1v1h-1zm-2 4h1v1h-1zm-2 4h1v1h-1zm-1 3h1v1h-1zm-2 4h1v1h-1zm-1 4h1v1h-1zm-2 3h1v1h-1zm-1 4h1v1h-1zm-1 4h1v1h-1zm-2 4h1v1h-1zm-1 4h1v1h-1zm-1 4h1v1h-1zm-1 3h1v1h-1zm0 4h1v1h-1zm-1 4h1v1h-1zm-1 4h1v1h-1zm-1 4h1v1h-1zm0 4h1v1h-1zm-1 4h1v1h-1zm0 4h1v1h-1zm0 4h1v1h-1zm-1 4h1v1h-1zm0 4h1v1h-1zm0 4h1v1h-1zm0 4h1v1h-1zm0 4h1v1h-1zm0 4h1v1h-1zm1 4h1v1h-1zm0 4h1v1h-1zm0 4h1v1h-1zm1 4h1v1h-1zm0 4h1v1h-1zm1 4h1v1h-1zm1 4h1v1h-1zm0 4h1v1h-1zm1 4h1v1h-1zm1 4h1v1h-1zm1 3h1v1h-1zm1 4h1v1h-1zm1 4h1v1h-1zm2 4h1v1h-1zm1 4h1v1h-1zm1 3h1v1h-1zm2 4h1v1h-1zm1 4h1v1h-1zm2 3h1v1h-1zm2 4h1v1h-1zm2 4h1v1h-1zm1 3h1v1h-1zm2 4h1v1h-1zm2 3h1v1h-1zm2 4h1v1h-1zm2 3h1v1h-1zm3 3h1v1h-1zm2 4h1v1h-1zm2 3h1v1h-1zm3 3h1v1h-1zm2 3h1v1h-1zm2 4h1v1h-1zm3 3h1v1h-1zm3 3h1v1h-1zm2 3h1v1h-1zm3 3h1v1h-1zm3 2h1v1h-1zm3 3h1v1h-1zm2 3h1v1h-1zm3 3h1v1h-1zm3 2h1v1h-1zm3 3h1v1h-1zm4 2h1v1h-1zm3 3h1v1h-1zm3 2h1v1h-1zm3 3h1v1h-1zm3 2h1v1h-1zm4 2h1v1h-1zm3 2h1v1h-1zm4 2h1v1h-1zm3 3h1v1h-1zm3 1h1v1h-1zm4 2h1v1h-1zm3 2h1v1h-1zm4 2h1v1h-1zm4 2h1v1h-1zm3 1h1v1h-1zm4 2h1v1h-1zm4 1h1v1h-1zm3 2h1v1h-1zm4 1h1v1h-1zm4 1h1v1h-1zm4 2h1v1h-1zm4 1h1v1h-1zm4 1h1v1h-1zm3 1h1v1h-1zm4 1h1v1h-1zm4 1h1v1h-1zm4 0h1v1h-1zm4 1h1v1h-1zm4 1h1v1h-1zm4 0h1v1h-1zm4 1h1v1h-1zm4 0h1v1h-1zm4 0h1v1h-1zm4 1h1v1h-1zm4 0h1v1h-1zm4 0h1v1h-1zm4 0h1v1h-1zm4 0h1v1h-1zm4 0h1v1h-1zm4 0h1v1h-1zm4-1h1v1h-1zm4 0h1v1h-1zm4 0h1v1h-1zm4-1h1v1h-1zm4-1h1v1h-1zm4 0h1v1h-1zm4-1h1v1h-1zm4-1h1v1h-1zm4-1h1v1h-1zm3 0h1v1h-1zm4-1h1v1h-1zm4-2h1v1h-1zm4-1h1v1h-1zm4-1h1v1h-1zm4-1h1v1h-1zm3-2h1v1h-1zm4-1h1v1h-1zm4-2h1v1h-1zm3-1h1v1h-1zm4-2h1v1h-1zm4-1h1v1h-1zm3-2h1v1h-1zm4-2h1v1h-1zm3-2h1v1h-1zm4-2h1v1h-1zm3-2h1v1h-1zm4-2h1v1h-1zm3-2h1v1h-1zm3-3h1v1h-1zm4-2h1v1h-1zm3-2h1v1h-1zm3-3h1v1h-1zm3-2h1v1h-1zm3-3h1v1h-1zm3-2h1v1h-1zm3-3h1v1h-1zm3-3h1v1h-1zm3-3h1v1h-1zm3-2h1v1h-1zm3-3h1v1h-1zm2-3h1v1h-1zm3-3h1v1h-1zm3-3h1v1h-1zm2-3h1v1h-1zm3-3h1v1h-1zm2-4h1v1h-1zm2-3h1v1h-1zm3-3h1v1h-1zm2-3h1v1h-1zm2-4h1v1h-1zm2-3h1v1h-1zm2-4h1v1h-1zm2-3h1v1h-1zm2-4h1v1h-1zm2-3h1v1h-1zm1-4h1v1h-1zm2-4h1v1h-1zm2-3h1v1h-1zm1-4h1v1h-1zm2-4h1v1h-1zm1-3h1v1h-1zm1-4h1v1h-1zm2-4h1v1h-1zm1-4h1v1h-1zm1-4h1v1h-1zm1-4h1v1h-1zm1-3h1v1h-1zm1-4h1v1h-1zm0-4h1v1h-1zm1-4h1v1h-1zm1-4h1v1h-1zm0-4h1v1h-1zm1-4h1v1h-1zm0-4h1v1h-1zm0-4h1v1h-1zm1-4h1v1h-1zm0-4h1v1h-1zm0-4h1v1h-1z"/>
<path fill="#000" stroke="none" d="m698 367h1v1h-1zm0-4h1v1h-1zm0-4h1v1h-1zm0-4h1v1h-1zm-1-4h1v1h-1zm0-4h1v1h-1zm0-4h1v1h-1zm-1-4h1v1h-1zm0-4h1v1h-1zm-1-4h1v1h-1zm-1-4h1v1h-1zm0-3h1v1h-1zm-1-4h1v1h-1zm-1-4h1v1h-1zm-1-4h1v1h-1zm-1-4h1v1h-1zm-1-4h1v1h-1zm-1-4h1v1h-1zm-2-4h1v1h-1zm-1-3h1v1h-1zm-1-4h1v1h-1zm-2-4h1v1h-1zm-1-3h1v1h-1zm-2-4h1v1h-1zm-1-4h1v1h-1zm-2-3h1v1h-1zm-2-4h1v1h-1zm-2-4h1v1h-1zm-2-3h1v1h-1zm-2-4h1v1h-1zm-2-3h1v1h-1zm-2-3h1v1h-1zm-2-4h1v1h-1zm-2-3h1v1h-1zm-2-3h1v1h-1zm-3-4h1v1h-1zm-2-3h1v1h-1zm-2-3h1v1h-1zm-3-3h1v1h-1zm-2-3h1v1h-1zm-3-3h1v1h-1zm-3-3h1v1h-1zm-2-3h1v1h-1zm-3-3h1v1h-1zm-3-3h1v1h-1zm-3-3h1v1h-1zm-3-3h1v1h-1zm-2-2h1v1h-1zm-3-3h1v1h-1zm-3-3h1v1h-1zm-4-2h1v1h-1zm-3-3h1v1h-1zm-3-2h1v1h-1zm-3-3h1v1h-1zm-3-2h1v1h-1zm-4-2h1v1h-1zm-3-2h1v1h-1zm-3-3h1v1h-1zm-4-2h1v1h-1zm-3-2h1v1h-1zm-4-2h1v1h-1zm-3-2h1v1h-1zm-4-2h1v1h-1zm-3-1h1v1h-1zm-4-2h1v1h-1zm-3-2h1v1h-1zm-4-1h1v1h-1zm-4-2h1v1h-1zm-3-2h1v1h-1zm-4-1h1v1h-1zm-4-1h1v1h-1zm-4-2h1v1h-1zm-4-1h1v1h-1zm-3-1h1v1h-1zm-4-1h1v1h-1zm-4-1h1v1h-1zm-4-1h1v1h-1zm-4-1h1v1h-1zm-4-1h1v1h-1zm-4-1h1v1h-1zm-4-1h1v1h-1zm-3 0h1v1h-1zm-4-1h1v1h-1zm-4 0h1v1h-1zm-4-1h1v1h-1zm-4 0h1v1h-1zm-4 0h1v1h-1zm-4-1h1v1h-1zm-4 0h1v1h-1zm-4 0h1v1h-1zm-4 0h1v1h-1zm-4 0h1v1h-1zm-4 0h1v1h-1zm-4 0h1v1h-1zm-4 0h1v1h-1zm-4 1h1v1h-1zm-4 0h1v1h-1zm-4 0h1v1h-1zm-4 1h1v1h-1zm-4 0h1v1h-1zm-4 1h1v1h-1zm-4 1h1v1h-1zm-4 0h1v1h-1zm-4 1h1v1h-1zm-4 1h1v1h-1zm-4 1h1v1h-1zm-4 1h1v1h-1zm-3 1h1v1h-1zm-4 1h1v1h-1zm-4 2h1v1h-1zm-4 1h1v1h-1zm-4 1h1v1h-1zm-3 2h1v1h-1zm-4 1h1v1h-1zm-4 2h1v1h-1zm-4 1h1v1h-1zm-3 2h1v1h-1zm-4 1h1v1h-1zm-3 2h1v1h-1zm-4 2h1v1h-1zm-3 2h1v1h-1zm-4 2h1v1h-1zm-3 2h1v1h-1zm-4 2h1v1h-1zm-3 2h1v1h-1zm-4 2h1v1h-1zm-3 3h1v1h-1zm-3 2h1v1h-1zm-3 2h1v1h-1zm-4 3h1v1h-1zm-3 2h1v1h-1zm-3 3h1v1h-1zm-3 2h1v1h-1zm-3 3h1v1h-1zm-3 3h1v1h-1zm-3 2h1v1h-1zm-3 3h1v1h-1zm-2 3h1v1h-1zm-3 3h1v1h-1zm-3 3h1v1h-1zm-3 3h1v1h-1zm-2 3h1v1h-1zm-3 3h1v1h-1zm-2 3h1v1h-1zm-3 3h1v1h-1zm-2 3h1v1h-1zm-3 3h1v1h-1zm-2 4h1v1h-1zm-2 3h1v1h-1zm-2 3h1v1h-1zm-2 4h1v1h-1zm-2 3h1v1h-1zm-2 4h1v1h-1zm-2 3h1v1h-1zm-2 4h1v1h-1zm-2 3h1v1h-1zm-2 4h1v1h-1zm-1 4h1v1h-1zm-2 3h1v1h-1zm-2 4h1v1h-1zm-1 4h1v1h-1zm-1 3h1v1h-1zm-2 4h1v1h-1zm-1 4h1v1h-1zm-1 4h1v1h-1zm-1 4h1v1h-1zm-2 3h1v1h-1zm-1 4h1v1h-1zm0 4h1v1h-1zm-1 4h1v1h-1zm-1 4h1v1h-1zm-1 4h1v1h-1zm-1 4h1v1h-1zm0 4h1v1h-1zm-1 4h1v1h-1zm0 4h1v1h-1zm0 4h1v1h-1zm-1 4h1v1h-1zm0 4h1v1h-1zm0 4h1v1h-1zm0 4h1v1h-1zm0 4h1v1h-1zm0 4h1v1h-1zm0 4h1v1h-1zm0 4h1v1h-1zm0 4h1v1h-1zm1 4h1v1h-1zm0 4h1v1h-1zm1 4h1v1h-1zm0 4h1v1h-1zm1 4h1v1h-1zm1 4h1v1h-1zm0 3h1v1h-1zm1 4h1v1h-1zm1 4h1v1h-1zm1 4h1v1h-1zm1 4h1v1h-1zm1 4h1v1h-1zm2 4h1v1h-1zm1 3h1v1h-1zm1 4h1v1h-1zm2 4h1v1h-1zm1 4h1v1h-1zm2 3h1v1h-1zm1 4h1v1h-1zm2 4h1v1h-1zm2 3h1v1h-1zm1 4h1v1h-1zm2 3h1v1h-1zm2 4h1v1h-1zm2 3h1v1h-1zm2 4h1v1h-1zm2 3h1v1h-1zm2 4h1v1h-1zm3 3h1v1h-1zm2 3h1v1h-1zm2 4h1v1h-1zm3 3h1v1h-1zm2 3h1v1h-1zm2 3h1v1h-1zm3 3h1v1h-1zm3 3h1v1h-1zm2 3h1v1h-1zm3 3h1v1h-1zm3 3h1v1h-1zm3 3h1v1h-1zm2 3h1v1h-1zm3 2h1v1h-1zm3 3h1v1h-1zm3 3h1v1h-1zm3 2h1v1h-1zm3 3h1v1h-1zm4 2h1v1h-1zm3 3h1v1h-1zm3 2h1v1h-1zm3 2h1v1h-1zm4 3h1v1h-1zm3 2h1v1h-1zm3 2h1v1h-1zm4 2h1v1h-1zm3 2h1v1h-1zm4 2h1v1h-1zm3 2h1v1h-1zm4 2h1v1h-1zm3 2h1v1h-1zm4 1h1v1h-1zm3 2h1v1h-1zm4 2h1v1h-1zm4 1h1v1h-1zm4 2h1v1h-1zm3 1h1v1h-1zm4 1h1v1h-1zm4 2h1v1h-1zm4 1h1v1h-1zm3 1h1v1h-1zm4 1h1v1h-1zm4 1h1v1h-1zm4 1h1v1h-1zm4 1h1v1h-1zm4 1h1v1h-1zm4 1h1v1h-1zm4 0h1v1h-1zm4 1h1v1h-1zm4 1h1v1h-1zm4 0h1v1h-1zm4 1h1v1h-1zm4 0h1v1h-1zm4 0h1v1h-1zm4 0h1v1h-1zm4 1h1v1h-1zm4 0h1v1h-1zm4 0h1v1h-1zm4 0h1v1h-1zm4 0h1v1h-1zm4-1h1v1h-1zm4 0h1v1h-1zm4 0h1v1h-1zm4-1h1v1h-1zm3 0h1v1h-1zm4 0h1v1h-1zm4-1h1v1h-1zm4-1h1v1h-1zm4 0h1v1h-1zm4-1h1v1h-1zm4-1h1v1h-1zm4-1h1v1h-1zm4-1h1v1h-1zm4-1h1v1h-1zm4-1h1v1h-1zm3-1h1v1h-1zm4-1h1v1h-1zm4-2h1v1h-1zm4-1h1v1h-1zm4-1h1v1h-1zm3-2h1v1h-1zm4-1h1v1h-1zm4-2h1v1h-1zm3-2h1v1h-1zm4-2h1v1h-1zm3-1h1v1h-1zm4-2h1v1h-1zm3-2h1v1h-1zm4-2h1v1h-1zm3-2h1v1h-1zm4-2h1v1h-1zm3-2h1v1h-1zm4-3h1v1h-1zm3-2h1v1h-1zm3-2h1v1h-1zm3-2h1v1h-1zm3-3h1v1h-1zm4-2h1v1h-1zm3-3h1v1h-1zm3-3h1v1h-1zm3-2h1v1h-1zm3-3h1v1h-1zm3-3h1v1h-1zm2-2h1v1h-1zm3-3h1v1h-1zm3-3h1v1h-1zm3-3h1v1h-1zm2-3h1v1h-1zm3-3h1v1h-1zm3-3h1v1h-1zm2-3h1v1h-1zm2-4h1v1h-1zm3-3h1v1h-1zm2-3h1v1h-1zm2-3h1v1h-1zm3-4h1v1h-1zm2-3h1v1h-1zm2-3h1v1h-1zm2-4h1v1h-1zm2-3h1v1h-1zm2-4h1v1h-1zm2-3h1v1h-1zm1-4h1v1h-1zm2-4h1v1h-1zm2-3h1v1h-1zm1-4h1v1h-1zm2-4h1v1h-1zm1-3h1v1h-1zm2-4h1v1h-1zm1-4h1v1h-1zm1-4h1v1h-1zm2-4h1v1h-1zm1-3h1v1h-1zm1-4h1v1h-1zm1-4h1v1h-1zm1-4h1v1h-1zm0-4h1v1h-1zm1-4h1v1h-1zm1-4h1v1h-1zm1-4h1v1h-1zm0-4h1v1h-1zm1-4h1v1h-1zm0-4h1v1h-1zm0-4h1v1h-1zm1-4h1v1h-1zm0-4h1v1h-1zm0-4h1v1h-1zm0-4h1v1h-1z"/>
<line x1="465.5" y1="367.5" x2="465.50" y2="140.20" stroke="#000" stroke-width="1"/>
<line x1="465.5" y1="367.5" x2="554.47" y2="157.50" stroke="#000" stroke-width="1"/>
<line x1="465.5" y1="367.5" x2="629.90" y2="206.77" stroke="#000" stroke-width="1"/>
<line x1="465.5" y1="367.5" x2="680.30" y2="280.52" stroke="#000" stroke-width="1"/>
<line x1="465.5" y1="367.5" x2="698.00" y2="367.50" stroke="#000" stroke-width="1"/>
<line x1="465.5" y1="367.5" x2="680.30" y2="454.48" stroke="#000" stroke-width="1"/>
<line x1="465.5" y1="367.5" x2="629.90" y2="528.23" stroke="#000" stroke-width="1"/>
<line x1="465.5" y1="367.5" x2="554.47" y2="577.50" stroke="#000" stroke-width="1"/>
<line x1="465.5" y1="367.5" x2="465.50" y2="594.80" stroke="#000" stroke-width="1"/>
<line x1="465.5" y1="367.5" x2="376.53" y2="577.50" stroke="#000" stroke-width="1"/>
<line x1="465.5" y1="367.5" x2="301.10" y2="528.23" stroke="#000" stroke-width="1"/>
<line x1="465.5" y1="367.5" x2="250.70" y2="454.48" stroke="#000" stroke-width="1"/>
<line x1="465.5" y1="367.5" x2="233.00" y2="367.50" stroke="#000" stroke-width="1"/>
<line x1="465.5" y1="367.5" x2="250.70" y2="280.52" stroke="#000" stroke-width="1"/>
<line x1="465.5" y1="367.5" x2="301.10" y2="206.77" stroke="#000" stroke-width="1"/>
<line x1="465.5" y1="367.5" x2="376.53" y2="157.50" stroke="#000" stroke-width="1"/>
</g>
<g shape-rendering="crispEdges" stroke-width="1.2" stroke-linejoin="miter">
<path d="M465.5 367.5L570.19 540.57A205.67 201.07 0 0 1 518.73 561.72Z" fill="#f0f" stroke="#f0f"/>
<path d="M465.5 367.5L491.90 386.88A33.02 32.28 0 0 1 485.60 393.11Z" fill="#0ff" stroke="#0ff"/>
<path d="M465.5 367.5L564.09 530.47A193.67 189.34 0 0 1 515.63 550.39Z" fill="#0ff" stroke="#0ff"/>
<path d="M465.5 367.5L482.29 482.81A119.13 116.47 0 0 1 449.95 482.97Z" fill="#0ff" stroke="#0ff"/>
<path d="M465.5 367.5L484.35 381.34A23.58 23.05 0 0 1 479.85 385.79Z" fill="#f00" stroke="#f00"/>
<path d="M465.5 367.5L533.27 479.53A133.13 130.15 0 0 1 499.96 493.22Z" fill="#f00" stroke="#f00"/>
<path d="M465.5 367.5L480.77 472.41A108.39 105.97 0 0 1 451.35 472.56Z" fill="#f00" stroke="#f00"/>
<path d="M465.5 367.5L454.88 407.92A42.69 41.73 0 0 1 444.16 403.64Z" fill="#f00" stroke="#f00"/>
<path d="M465.5 367.5L474.50 374.11A11.25 11.00 0 0 1 472.35 376.23Z" fill="#0f0" stroke="#0f0"/>
<path d="M465.5 367.5L490.97 409.60A50.03 48.91 0 0 1 478.45 414.75Z" fill="#0f0" stroke="#0f0"/>
<path d="M465.5 367.5L474.69 430.60A65.19 63.73 0 0 1 456.99 430.69Z" fill="#0f0" stroke="#0f0"/>
<path d="M465.5 367.5L457.05 399.69A33.99 33.23 0 0 1 448.50 396.28Z" fill="#0f0" stroke="#0f0"/>
<path d="M465.5 367.5L453.69 382.88A19.67 19.23 0 0 1 449.90 379.21Z" fill="#0f0" stroke="#0f0"/>
<path d="M465.5 367.5L454.49 373.86A12.79 12.50 0 0 1 453.15 370.74Z" fill="#0f0" stroke="#0f0"/>
<path d="M465.5 367.5L468.51 369.71A3.77 3.68 0 0 1 467.79 370.42Z" fill="#00f" stroke="#00f" stroke-width="1.5"/>
<path d="M465.5 367.5L470.38 375.56A9.58 9.36 0 0 1 467.98 376.55Z" fill="#00f" stroke="#00f" stroke-width="1.5"/>
<path d="M465.5 367.5L467.61 381.99A14.97 14.64 0 0 1 463.55 382.01Z" fill="#00f" stroke="#00f" stroke-width="1.5"/>
<path d="M465.5 367.5L461.97 380.93A14.18 13.87 0 0 1 458.41 379.51Z" fill="#00f" stroke="#00f" stroke-width="1.5"/>
<path d="M465.5 367.5L458.66 376.41A11.39 11.14 0 0 1 456.46 374.28Z" fill="#00f" stroke="#00f" stroke-width="1.5"/>
<path d="M465.5 367.5L459.90 370.74A6.51 6.36 0 0 1 459.21 369.15Z" fill="#00f" stroke="#00f" stroke-width="1.5"/>
<path d="M465.5 367.5L465.91 367.80A0.51 0.50 0 0 1 465.81 367.90Z" fill="#000" stroke="#000" stroke-width="1.5"/>
<path d="M465.5 367.5L465.78 367.97A0.56 0.55 0 0 1 465.64 368.03Z" fill="#000" stroke="#000" stroke-width="1.5"/>
<path d="M465.5 367.5L465.68 368.72A1.26 1.23 0 0 1 465.34 368.72Z" fill="#000" stroke="#000" stroke-width="1.5"/>
<path d="M465.5 367.5L465.18 368.73A1.30 1.27 0 0 1 464.85 368.60Z" fill="#000" stroke="#000" stroke-width="1.5"/>
<path d="M465.5 367.5L464.86 368.34A1.07 1.05 0 0 1 464.65 368.14Z" fill="#000" stroke="#000" stroke-width="1.5"/>
<path d="M465.5 367.5L465.02 367.78A0.56 0.55 0 0 1 464.96 367.64Z" fill="#000" stroke="#000" stroke-width="1.5"/>
</g>
<text class="b c" transform="matrix(1 0 0 1.03 465.8 105.7)" font-size="16.64">Creocean South Africa EBS N2 Climatological Wind Rose for January: 1979 - 2015</text>
<text class="c" x="466" y="134.9" font-size="20.7">N</text>
<text class="c" x="465.7" y="615.5" font-size="20.7">S</text>
<text class="c" x="222.5" y="375.7" font-size="20.7">W</text>
<text class="c" x="706" y="375.9" font-size="20.7">E</text>
<text class="c" x="282.6" y="201.7" font-size="20.7">NW</text>
<text class="c" x="646" y="201.7" font-size="20.7">NE</text>
<text class="c" x="284" y="548.8" font-size="20.7">SW</text>
<text class="c" x="644" y="548.8" font-size="20.7">SE</text>
<text transform="matrix(1 0 0 1.05 555 153.5)" font-size="14.6">50% (interval: 5%)</text>
<text class="e" transform="matrix(1 0 0 1.06 808.4 620.8)" font-size="10.4">Plotted at 18-Jun-2024 17:32:57</text>
<g shape-rendering="crispEdges" stroke="#000" stroke-width="1" stroke-linejoin="miter">
<path d="M125.60 118.50L128.10 117.50L152.30 117.50L154.80 118.50L152.37 152.13L128.03 152.13Z" fill="#f0f"/>
<path d="M128.03 152.63L130.53 151.63L149.87 151.63L152.37 152.63L149.93 186.27L130.47 186.27Z" fill="#0ff"/>
<path d="M130.47 186.77L132.97 185.77L147.43 185.77L149.93 186.77L147.50 220.40L132.90 220.40Z" fill="#f00"/>
<path d="M132.90 220.90L135.40 219.90L145.00 219.90L147.50 220.90L145.07 254.53L135.33 254.53Z" fill="#0f0"/>
<path d="M135.33 255.03L137.83 254.03L142.57 254.03L145.07 255.03L142.63 288.67L137.77 288.67Z" fill="#00f"/>
<path d="M137.77 288.67L142.63 288.67L140.20 322.80Z" fill="#000"/>
</g>
<text transform="matrix(1 0 0 1.07 159.9 139.7)" font-size="12.45">&gt;25 kts</text>
<text transform="matrix(1 0 0 1.07 159.9 173.8)" font-size="12.45">20-25 kts</text>
<text transform="matrix(1 0 0 1.07 159.9 208)" font-size="12.45">15-20 kts</text>
<text transform="matrix(1 0 0 1.07 159.9 241.7)" font-size="12.45">10-15 kts</text>
<text transform="matrix(1 0 0 1.07 159.9 275.8)" font-size="12.45">5-10 kts</text>
<text transform="matrix(1 0 0 1.07 159.9 309.7)" font-size="12.45">0-5 kts</text>
<text class="b c" transform="matrix(1 0 0 0.985 464.8 753.8)" font-size="20.72">Joint Frequency Distribution Table</text>
<g shape-rendering="crispEdges" stroke-width="1" fill="none">
<rect x="117.5" y="822.5" width="697" height="512" stroke="#262626"/>
<line x1="117" x2="815" y1="865.5" y2="865.5" stroke="#77ac30"/>
<line x1="117" x2="815" y1="908.5" y2="908.5" stroke="#7e2f8e"/>
<line x1="117" x2="815" y1="950.5" y2="950.5" stroke="#edb120"/>
<line x1="117" x2="815" y1="993.5" y2="993.5" stroke="#d95319"/>
<line x1="117" x2="815" y1="1036.5" y2="1036.5" stroke="#0072bd"/>
<line x1="117" x2="815" y1="1078.5" y2="1078.5" stroke="#a2142f"/>
<line x1="117" x2="815" y1="1121.5" y2="1121.5" stroke="#4dbeee"/>
<line x1="117" x2="815" y1="1164.5" y2="1164.5" stroke="#77ac30"/>
<line x1="117" x2="815" y1="1206.5" y2="1206.5" stroke="#7e2f8e"/>
<line x1="117" x2="815" y1="1249.5" y2="1249.5" stroke="#edb120"/>
<line x1="117" x2="815" y1="1292.5" y2="1292.5" stroke="#d95319"/>
<line x1="117" x2="815" y1="1334.5" y2="1334.5" stroke="#0072bd"/>
<line x1="116.5" x2="116.5" y1="823" y2="1335" stroke="#4dbeee"/>
<line x1="158" x2="158" y1="823" y2="1335" stroke="#a2142f" stroke-width="2"/>
<line x1="199.5" x2="199.5" y1="823" y2="1335" stroke="#0072bd"/>
<line x1="240.5" x2="240.5" y1="823" y2="1335" stroke="#d95319"/>
<line x1="281.5" x2="281.5" y1="823" y2="1335" stroke="#edb120"/>
<line x1="322.5" x2="322.5" y1="823" y2="1335" stroke="#7e2f8e"/>
<line x1="363.5" x2="363.5" y1="823" y2="1335" stroke="#77ac30"/>
<line x1="404.5" x2="404.5" y1="823" y2="1335" stroke="#4dbeee"/>
<line x1="445.5" x2="445.5" y1="823" y2="1335" stroke="#a2142f"/>
<line x1="486.5" x2="486.5" y1="823" y2="1335" stroke="#0072bd"/>
<line x1="527.5" x2="527.5" y1="823" y2="1335" stroke="#d95319"/>
<line x1="568.5" x2="568.5" y1="823" y2="1335" stroke="#edb120"/>
<line x1="609.5" x2="609.5" y1="823" y2="1335" stroke="#7e2f8e"/>
<line x1="650.5" x2="650.5" y1="823" y2="1335" stroke="#77ac30"/>
<line x1="691.5" x2="691.5" y1="823" y2="1335" stroke="#4dbeee"/>
<line x1="732.5" x2="732.5" y1="823" y2="1335" stroke="#a2142f"/>
<line x1="773.5" x2="773.5" y1="823" y2="1335" stroke="#0072bd"/>
</g>
<g text-anchor="middle">
<text x="138" y="816.6" font-size="12.6">N</text>
<text x="179" y="816.6" font-size="12.6">NNE</text>
<text x="220" y="816.6" font-size="12.6">NE</text>
<text x="261" y="816.6" font-size="12.6">ENE</text>
<text x="302" y="816.6" font-size="12.6">E</text>
<text x="343" y="816.6" font-size="12.6">ESE</text>
<text x="384" y="816.6" font-size="12.6">SE</text>
<text x="425" y="816.6" font-size="12.6">SSE</text>
<text x="466" y="816.6" font-size="12.6">S</text>
<text x="507" y="816.6" font-size="12.6">SSW</text>
<text x="548" y="816.6" font-size="12.6">SW</text>
<text x="589" y="816.6" font-size="12.6">WSW</text>
<text x="630" y="816.6" font-size="12.6">W</text>
<text x="671" y="816.6" font-size="12.6">WNW</text>
<text x="712" y="816.6" font-size="12.6">NW</text>
<text x="753" y="816.6" font-size="12.6">NNW</text>
<text x="794" y="816.6" font-size="12.6">Total</text>
<circle cx="137.60" cy="854.9" r="2.25"/>
<circle cx="178.65" cy="854.9" r="2.25"/>
<circle cx="219.70" cy="854.9" r="2.25"/>
<circle cx="260.75" cy="854.9" r="2.25"/>
<text transform="matrix(1 0 0 1.05 302.3 860.0)" font-size="12.7">0.01</text>
<circle cx="342.85" cy="854.9" r="2.25"/>
<circle cx="383.90" cy="854.9" r="2.25"/>
<circle cx="424.95" cy="854.9" r="2.25"/>
<circle cx="466.00" cy="854.9" r="2.25"/>
<circle cx="507.05" cy="854.9" r="2.25"/>
<circle cx="548.10" cy="854.9" r="2.25"/>
<circle cx="589.15" cy="854.9" r="2.25"/>
<circle cx="630.20" cy="854.9" r="2.25"/>
<text transform="matrix(1 0 0 1.05 671.3 860.0)" font-size="12.7">0.01</text>
<circle cx="712.30" cy="854.9" r="2.25"/>
<circle cx="753.35" cy="854.9" r="2.25"/>
<text transform="matrix(1 0 0 1.05 794.3 860.0)" font-size="12.7">0.02</text>
<text transform="matrix(1 0 0 1.05 138.3 903.0)" font-size="12.7">0.01</text>
<circle cx="178.65" cy="897.9" r="2.25"/>
<text transform="matrix(1 0 0 1.05 220.3 903.0)" font-size="12.7">0.02</text>
<text transform="matrix(1 0 0 1.05 261.3 903.0)" font-size="12.7">0.01</text>
<circle cx="301.80" cy="897.9" r="2.25"/>
<text transform="matrix(1 0 0 1.05 343.3 903.0)" font-size="12.7">0.06</text>
<text transform="matrix(1 0 0 1.05 384.3 903.0)" font-size="12.7">0.11</text>
<text transform="matrix(1 0 0 1.05 425.3 903.0)" font-size="12.7">0.12</text>
<text transform="matrix(1 0 0 1.05 466.3 903.0)" font-size="12.7">0.27</text>
<text transform="matrix(1 0 0 1.05 507.3 903.0)" font-size="12.7">0.28</text>
<text transform="matrix(1 0 0 1.05 548.3 903.0)" font-size="12.7">0.23</text>
<text transform="matrix(1 0 0 1.05 589.3 903.0)" font-size="12.7">0.12</text>
<text transform="matrix(1 0 0 1.05 630.3 903.0)" font-size="12.7">0.10</text>
<text transform="matrix(1 0 0 1.05 671.3 903.0)" font-size="12.7">0.05</text>
<text transform="matrix(1 0 0 1.05 712.3 903.0)" font-size="12.7">0.01</text>
<text transform="matrix(1 0 0 1.05 753.3 903.0)" font-size="12.7">0.04</text>
<text transform="matrix(1 0 0 1.05 794.3 903.0)" font-size="12.7">1.44</text>
<text transform="matrix(1 0 0 1.05 138.3 945.0)" font-size="12.7">0.05</text>
<text transform="matrix(1 0 0 1.05 179.3 945.0)" font-size="12.7">0.02</text>
<circle cx="219.70" cy="939.9" r="2.25"/>
<circle cx="260.75" cy="939.9" r="2.25"/>
<text transform="matrix(1 0 0 1.05 302.3 945.0)" font-size="12.7">0.01</text>
<text transform="matrix(1 0 0 1.05 343.3 945.0)" font-size="12.7">0.09</text>
<text transform="matrix(1 0 0 1.05 384.3 945.0)" font-size="12.7">0.70</text>
<text transform="matrix(1 0 0 1.05 425.3 945.0)" font-size="12.7">1.94</text>
<text transform="matrix(1 0 0 1.05 466.3 945.0)" font-size="12.7">2.95</text>
<text transform="matrix(1 0 0 1.05 507.3 945.0)" font-size="12.7">2.77</text>
<text transform="matrix(1 0 0 1.05 548.3 945.0)" font-size="12.7">2.22</text>
<text transform="matrix(1 0 0 1.05 589.3 945.0)" font-size="12.7">1.28</text>
<text transform="matrix(1 0 0 1.05 630.3 945.0)" font-size="12.7">0.76</text>
<text transform="matrix(1 0 0 1.05 671.3 945.0)" font-size="12.7">0.42</text>
<text transform="matrix(1 0 0 1.05 712.3 945.0)" font-size="12.7">0.18</text>
<text transform="matrix(1 0 0 1.05 753.3 945.0)" font-size="12.7">0.09</text>
<text transform="matrix(1 0 0 1.05 794.3 945.0)" font-size="12.7">13.48</text>
<text transform="matrix(1 0 0 1.05 138.3 988.0)" font-size="12.7">0.02</text>
<text transform="matrix(1 0 0 1.05 179.3 988.0)" font-size="12.7">0.06</text>
<circle cx="219.70" cy="982.9" r="2.25"/>
<circle cx="260.75" cy="982.9" r="2.25"/>
<text transform="matrix(1 0 0 1.05 302.3 988.0)" font-size="12.7">0.02</text>
<text transform="matrix(1 0 0 1.05 343.3 988.0)" font-size="12.7">0.10</text>
<text transform="matrix(1 0 0 1.05 384.3 988.0)" font-size="12.7">1.61</text>
<text transform="matrix(1 0 0 1.05 425.3 988.0)" font-size="12.7">8.70</text>
<text transform="matrix(1 0 0 1.05 466.3 988.0)" font-size="12.7">10.80</text>
<text transform="matrix(1 0 0 1.05 507.3 988.0)" font-size="12.7">4.26</text>
<text transform="matrix(1 0 0 1.05 548.3 988.0)" font-size="12.7">1.78</text>
<text transform="matrix(1 0 0 1.05 589.3 988.0)" font-size="12.7">1.35</text>
<text transform="matrix(1 0 0 1.05 630.3 988.0)" font-size="12.7">0.88</text>
<text transform="matrix(1 0 0 1.05 671.3 988.0)" font-size="12.7">0.56</text>
<text transform="matrix(1 0 0 1.05 712.3 988.0)" font-size="12.7">0.37</text>
<text transform="matrix(1 0 0 1.05 753.3 988.0)" font-size="12.7">0.04</text>
<text transform="matrix(1 0 0 1.05 794.3 988.0)" font-size="12.7">30.57</text>
<circle cx="137.60" cy="1025.9" r="2.25"/>
<circle cx="178.65" cy="1025.9" r="2.25"/>
<circle cx="219.70" cy="1025.9" r="2.25"/>
<circle cx="260.75" cy="1025.9" r="2.25"/>
<text transform="matrix(1 0 0 1.05 302.3 1031.0)" font-size="12.7">0.01</text>
<text transform="matrix(1 0 0 1.05 343.3 1031.0)" font-size="12.7">0.13</text>
<text transform="matrix(1 0 0 1.05 384.3 1031.0)" font-size="12.7">2.65</text>
<text transform="matrix(1 0 0 1.05 425.3 1031.0)" font-size="12.7">17.87</text>
<text transform="matrix(1 0 0 1.05 466.3 1031.0)" font-size="12.7">9.29</text>
<text transform="matrix(1 0 0 1.05 507.3 1031.0)" font-size="12.7">1.87</text>
<text transform="matrix(1 0 0 1.05 548.3 1031.0)" font-size="12.7">0.40</text>
<text transform="matrix(1 0 0 1.05 589.3 1031.0)" font-size="12.7">0.22</text>
<text transform="matrix(1 0 0 1.05 630.3 1031.0)" font-size="12.7">0.28</text>
<text transform="matrix(1 0 0 1.05 671.3 1031.0)" font-size="12.7">0.26</text>
<text transform="matrix(1 0 0 1.05 712.3 1031.0)" font-size="12.7">0.18</text>
<text transform="matrix(1 0 0 1.05 753.3 1031.0)" font-size="12.7">0.01</text>
<text transform="matrix(1 0 0 1.05 794.3 1031.0)" font-size="12.7">33.18</text>
<circle cx="137.60" cy="1067.9" r="2.25"/>
<circle cx="178.65" cy="1067.9" r="2.25"/>
<circle cx="219.70" cy="1067.9" r="2.25"/>
<circle cx="260.75" cy="1067.9" r="2.25"/>
<circle cx="301.80" cy="1067.9" r="2.25"/>
<text transform="matrix(1 0 0 1.05 343.3 1073.0)" font-size="12.7">0.06</text>
<text transform="matrix(1 0 0 1.05 384.3 1073.0)" font-size="12.7">2.03</text>
<text transform="matrix(1 0 0 1.05 425.3 1073.0)" font-size="12.7">13.02</text>
<text transform="matrix(1 0 0 1.05 466.3 1073.0)" font-size="12.7">2.20</text>
<text transform="matrix(1 0 0 1.05 507.3 1073.0)" font-size="12.7">0.18</text>
<text transform="matrix(1 0 0 1.05 548.3 1073.0)" font-size="12.7">0.05</text>
<text transform="matrix(1 0 0 1.05 589.3 1073.0)" font-size="12.7">0.07</text>
<text transform="matrix(1 0 0 1.05 630.3 1073.0)" font-size="12.7">0.05</text>
<text transform="matrix(1 0 0 1.05 671.3 1073.0)" font-size="12.7">0.01</text>
<text transform="matrix(1 0 0 1.05 712.3 1073.0)" font-size="12.7">0.05</text>
<text transform="matrix(1 0 0 1.05 753.3 1073.0)" font-size="12.7">0.01</text>
<text transform="matrix(1 0 0 1.05 794.3 1073.0)" font-size="12.7">17.74</text>
<circle cx="137.60" cy="1110.9" r="2.25"/>
<circle cx="178.65" cy="1110.9" r="2.25"/>
<circle cx="219.70" cy="1110.9" r="2.25"/>
<circle cx="260.75" cy="1110.9" r="2.25"/>
<circle cx="301.80" cy="1110.9" r="2.25"/>
<circle cx="342.85" cy="1110.9" r="2.25"/>
<text transform="matrix(1 0 0 1.05 384.3 1116.0)" font-size="12.7">0.72</text>
<text transform="matrix(1 0 0 1.05 425.3 1116.0)" font-size="12.7">2.44</text>
<text transform="matrix(1 0 0 1.05 466.3 1116.0)" font-size="12.7">0.16</text>
<text transform="matrix(1 0 0 1.05 507.3 1116.0)" font-size="12.7">0.01</text>
<circle cx="548.10" cy="1110.9" r="2.25"/>
<circle cx="589.15" cy="1110.9" r="2.25"/>
<text transform="matrix(1 0 0 1.05 630.3 1116.0)" font-size="12.7">0.01</text>
<text transform="matrix(1 0 0 1.05 671.3 1116.0)" font-size="12.7">0.01</text>
<circle cx="712.30" cy="1110.9" r="2.25"/>
<circle cx="753.35" cy="1110.9" r="2.25"/>
<text transform="matrix(1 0 0 1.05 794.3 1116.0)" font-size="12.7">3.36</text>
<circle cx="137.60" cy="1153.9" r="2.25"/>
<circle cx="178.65" cy="1153.9" r="2.25"/>
<circle cx="219.70" cy="1153.9" r="2.25"/>
<circle cx="260.75" cy="1153.9" r="2.25"/>
<circle cx="301.80" cy="1153.9" r="2.25"/>
<circle cx="342.85" cy="1153.9" r="2.25"/>
<text transform="matrix(1 0 0 1.05 384.3 1159.0)" font-size="12.7">0.05</text>
<text transform="matrix(1 0 0 1.05 425.3 1159.0)" font-size="12.7">0.12</text>
<text transform="matrix(1 0 0 1.05 466.3 1159.0)" font-size="12.7">0.04</text>
<circle cx="507.05" cy="1153.9" r="2.25"/>
<circle cx="548.10" cy="1153.9" r="2.25"/>
<circle cx="589.15" cy="1153.9" r="2.25"/>
<circle cx="630.20" cy="1153.9" r="2.25"/>
<circle cx="671.25" cy="1153.9" r="2.25"/>
<circle cx="712.30" cy="1153.9" r="2.25"/>
<circle cx="753.35" cy="1153.9" r="2.25"/>
<text transform="matrix(1 0 0 1.05 794.3 1159.0)" font-size="12.7">0.21</text>
<circle cx="137.60" cy="1195.9" r="2.25"/>
<circle cx="178.65" cy="1195.9" r="2.25"/>
<circle cx="219.70" cy="1195.9" r="2.25"/>
<circle cx="260.75" cy="1195.9" r="2.25"/>
<circle cx="301.80" cy="1195.9" r="2.25"/>
<circle cx="342.85" cy="1195.9" r="2.25"/>
<circle cx="383.90" cy="1195.9" r="2.25"/>
<circle cx="424.95" cy="1195.9" r="2.25"/>
<circle cx="466.00" cy="1195.9" r="2.25"/>
<text transform="matrix(1 0 0 1.05 507.3 1201.0)" font-size="12.7">0.01</text>
<circle cx="548.10" cy="1195.9" r="2.25"/>
<circle cx="589.15" cy="1195.9" r="2.25"/>
<circle cx="630.20" cy="1195.9" r="2.25"/>
<circle cx="671.25" cy="1195.9" r="2.25"/>
<circle cx="712.30" cy="1195.9" r="2.25"/>
<circle cx="753.35" cy="1195.9" r="2.25"/>
<text transform="matrix(1 0 0 1.05 794.3 1201.0)" font-size="12.7">0.01</text>
<circle cx="137.60" cy="1238.9" r="2.25"/>
<circle cx="178.65" cy="1238.9" r="2.25"/>
<circle cx="219.70" cy="1238.9" r="2.25"/>
<circle cx="260.75" cy="1238.9" r="2.25"/>
<circle cx="301.80" cy="1238.9" r="2.25"/>
<circle cx="342.85" cy="1238.9" r="2.25"/>
<circle cx="383.90" cy="1238.9" r="2.25"/>
<circle cx="424.95" cy="1238.9" r="2.25"/>
<circle cx="466.00" cy="1238.9" r="2.25"/>
<circle cx="507.05" cy="1238.9" r="2.25"/>
<circle cx="548.10" cy="1238.9" r="2.25"/>
<circle cx="589.15" cy="1238.9" r="2.25"/>
<circle cx="630.20" cy="1238.9" r="2.25"/>
<circle cx="671.25" cy="1238.9" r="2.25"/>
<circle cx="712.30" cy="1238.9" r="2.25"/>
<circle cx="753.35" cy="1238.9" r="2.25"/>
<circle cx="794.40" cy="1238.9" r="2.25"/>
<circle cx="137.60" cy="1281.9" r="2.25"/>
<circle cx="178.65" cy="1281.9" r="2.25"/>
<circle cx="219.70" cy="1281.9" r="2.25"/>
<circle cx="260.75" cy="1281.9" r="2.25"/>
<circle cx="301.80" cy="1281.9" r="2.25"/>
<circle cx="342.85" cy="1281.9" r="2.25"/>
<circle cx="383.90" cy="1281.9" r="2.25"/>
<circle cx="424.95" cy="1281.9" r="2.25"/>
<circle cx="466.00" cy="1281.9" r="2.25"/>
<circle cx="507.05" cy="1281.9" r="2.25"/>
<circle cx="548.10" cy="1281.9" r="2.25"/>
<circle cx="589.15" cy="1281.9" r="2.25"/>
<circle cx="630.20" cy="1281.9" r="2.25"/>
<circle cx="671.25" cy="1281.9" r="2.25"/>
<circle cx="712.30" cy="1281.9" r="2.25"/>
<circle cx="753.35" cy="1281.9" r="2.25"/>
<circle cx="794.40" cy="1281.9" r="2.25"/>
<text transform="matrix(1 0 0 1.05 138.3 1329.0)" font-size="12.7">0.09</text>
<text transform="matrix(1 0 0 1.05 179.3 1329.0)" font-size="12.7">0.09</text>
<text transform="matrix(1 0 0 1.05 220.3 1329.0)" font-size="12.7">0.02</text>
<text transform="matrix(1 0 0 1.05 261.3 1329.0)" font-size="12.7">0.01</text>
<text transform="matrix(1 0 0 1.05 302.3 1329.0)" font-size="12.7">0.06</text>
<text transform="matrix(1 0 0 1.05 343.3 1329.0)" font-size="12.7">0.44</text>
<text transform="matrix(1 0 0 1.05 384.3 1329.0)" font-size="12.7">7.86</text>
<text transform="matrix(1 0 0 1.05 425.3 1329.0)" font-size="12.7">44.23</text>
<text transform="matrix(1 0 0 1.05 466.3 1329.0)" font-size="12.7">25.71</text>
<text transform="matrix(1 0 0 1.05 507.3 1329.0)" font-size="12.7">9.39</text>
<text transform="matrix(1 0 0 1.05 548.3 1329.0)" font-size="12.7">4.69</text>
<text transform="matrix(1 0 0 1.05 589.3 1329.0)" font-size="12.7">3.05</text>
<text transform="matrix(1 0 0 1.05 630.3 1329.0)" font-size="12.7">2.08</text>
<text transform="matrix(1 0 0 1.05 671.3 1329.0)" font-size="12.7">1.32</text>
<text transform="matrix(1 0 0 1.05 712.3 1329.0)" font-size="12.7">0.79</text>
<text transform="matrix(1 0 0 1.05 753.3 1329.0)" font-size="12.7">0.18</text>
<text transform="matrix(1 0 0 1.05 794.3 1329.0)" font-size="12.7">100.00</text>
</g>
<g text-anchor="end" style="white-space:pre">
<text transform="matrix(1 0 0 1.04 95.2 860.8)" font-size="16.5">calm</text>
<text transform="matrix(1 0 0 1.04 105.9 892.8)" font-size="16.65" xml:space="preserve">0 - 5  kts</text>
<text transform="matrix(1 0 0 1.04 105.9 935.5)" font-size="16.65" xml:space="preserve">5 - 10 kts</text>
<text transform="matrix(1 0 0 1.04 105.9 978.1)" font-size="16.65" xml:space="preserve">10 - 15 kts</text>
<text transform="matrix(1 0 0 1.04 105.9 1020.8)" font-size="16.65" xml:space="preserve">15 - 20 kts</text>
<text transform="matrix(1 0 0 1.04 105.9 1063.5)" font-size="16.65" xml:space="preserve">20 - 25 kts</text>
<text transform="matrix(1 0 0 1.04 105.9 1106.1)" font-size="16.65" xml:space="preserve">25 - 30 kts</text>
<text transform="matrix(1 0 0 1.04 105.9 1148.8)" font-size="16.65" xml:space="preserve">30 - 35 kts</text>
<text transform="matrix(1 0 0 1.04 105.9 1191.5)" font-size="16.65" xml:space="preserve">35 - 40 kts</text>
<text transform="matrix(1 0 0 1.04 105.9 1234.1)" font-size="16.65" xml:space="preserve">40 - 45 kts</text>
<text transform="matrix(1 0 0 1.04 105.9 1276.8)" font-size="16.65" xml:space="preserve">45 - 50 kts</text>
<text transform="matrix(1 0 0 1.04 100.4 1319.8)" font-size="16.5">Total</text>
</g>
</svg></body></html>
